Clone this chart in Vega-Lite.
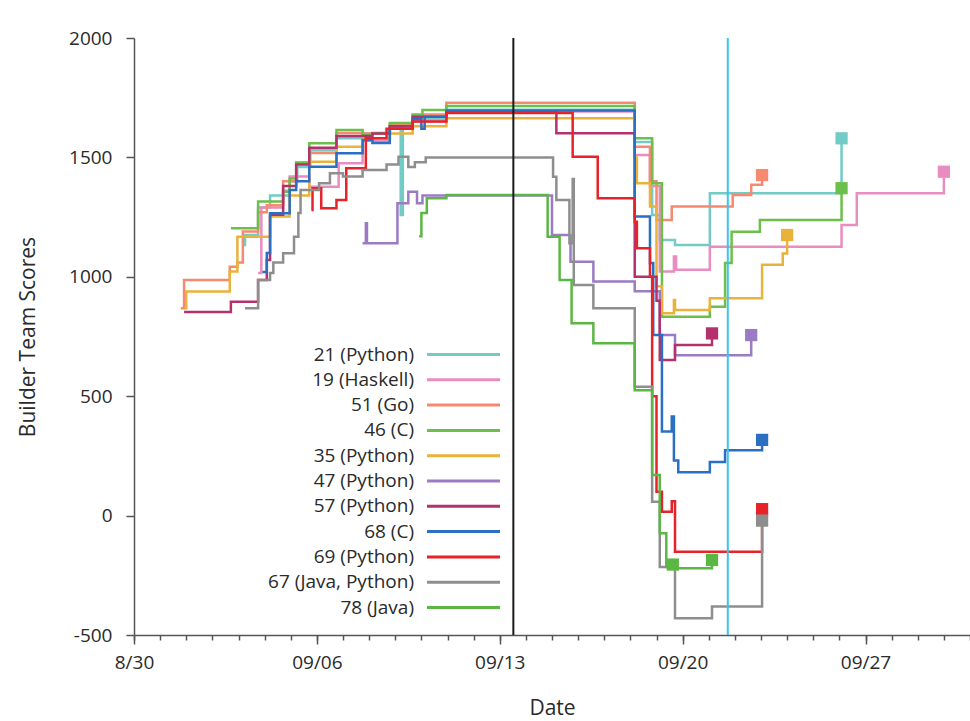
{
  "$schema": "https://vega.github.io/schema/vega-lite/v6.json",
  "width": 836,
  "height": 597,
  "autosize": {"type": "none"},
  "padding": {"left": 134, "top": 38, "right": 0, "bottom": 86},
  "background": "white",
  "datasets": {
    "scores": [
      {"team":"21 (Python)","t":"2015-09-03T04:00","score":1133},
      {"team":"21 (Python)","t":"2015-09-03T06:00","score":1175},
      {"team":"21 (Python)","t":"2015-09-03T18:00","score":1290},
      {"team":"21 (Python)","t":"2015-09-04T05:00","score":1340},
      {"team":"21 (Python)","t":"2015-09-04T23:00","score":1400},
      {"team":"21 (Python)","t":"2015-09-05T06:00","score":1460},
      {"team":"21 (Python)","t":"2015-09-05T18:00","score":1530},
      {"team":"21 (Python)","t":"2015-09-06T18:00","score":1580},
      {"team":"21 (Python)","t":"2015-09-07T18:00","score":1600},
      {"team":"21 (Python)","t":"2015-09-08T19:00","score":1630},
      {"team":"21 (Python)","t":"2015-09-09T05:00","score":1259},
      {"team":"21 (Python)","t":"2015-09-09T07:00","score":1640},
      {"team":"21 (Python)","t":"2015-09-09T16:00","score":1660},
      {"team":"21 (Python)","t":"2015-09-10T23:00","score":1700},
      {"team":"21 (Python)","t":"2015-09-18T04:00","score":1565},
      {"team":"21 (Python)","t":"2015-09-18T20:00","score":1259},
      {"team":"21 (Python)","t":"2015-09-19T03:00","score":1154},
      {"team":"21 (Python)","t":"2015-09-19T17:00","score":1133},
      {"team":"21 (Python)","t":"2015-09-21T01:00","score":1350},
      {"team":"21 (Python)","t":"2015-09-26T02:00","score":1580},

      {"team":"19 (Haskell)","t":"2015-09-03T18:00","score":1016},
      {"team":"19 (Haskell)","t":"2015-09-03T21:00","score":1290},
      {"team":"19 (Haskell)","t":"2015-09-04T17:00","score":1360},
      {"team":"19 (Haskell)","t":"2015-09-04T23:00","score":1420},
      {"team":"19 (Haskell)","t":"2015-09-05T17:00","score":1377},
      {"team":"19 (Haskell)","t":"2015-09-06T20:00","score":1475},
      {"team":"19 (Haskell)","t":"2015-09-07T18:00","score":1570},
      {"team":"19 (Haskell)","t":"2015-09-08T19:00","score":1620},
      {"team":"19 (Haskell)","t":"2015-09-09T16:00","score":1650},
      {"team":"19 (Haskell)","t":"2015-09-10T23:00","score":1692},
      {"team":"19 (Haskell)","t":"2015-09-18T04:00","score":1510},
      {"team":"19 (Haskell)","t":"2015-09-18T18:00","score":1380},
      {"team":"19 (Haskell)","t":"2015-09-19T03:00","score":1022},
      {"team":"19 (Haskell)","t":"2015-09-19T16:00","score":1085},
      {"team":"19 (Haskell)","t":"2015-09-19T18:00","score":1030},
      {"team":"19 (Haskell)","t":"2015-09-21T01:00","score":1126},
      {"team":"19 (Haskell)","t":"2015-09-26T02:00","score":1217},
      {"team":"19 (Haskell)","t":"2015-09-26T16:00","score":1350},
      {"team":"19 (Haskell)","t":"2015-09-30T00:00","score":1440},

      {"team":"51 (Go)","t":"2015-08-31T19:00","score":868},
      {"team":"51 (Go)","t":"2015-08-31T22:00","score":987},
      {"team":"51 (Go)","t":"2015-09-02T16:00","score":1042},
      {"team":"51 (Go)","t":"2015-09-02T23:00","score":1060},
      {"team":"51 (Go)","t":"2015-09-03T04:00","score":1190},
      {"team":"51 (Go)","t":"2015-09-03T18:00","score":1270},
      {"team":"51 (Go)","t":"2015-09-04T02:00","score":1300},
      {"team":"51 (Go)","t":"2015-09-04T17:00","score":1400},
      {"team":"51 (Go)","t":"2015-09-05T05:00","score":1480},
      {"team":"51 (Go)","t":"2015-09-05T17:00","score":1518},
      {"team":"51 (Go)","t":"2015-09-06T18:00","score":1602},
      {"team":"51 (Go)","t":"2015-09-07T18:00","score":1600},
      {"team":"51 (Go)","t":"2015-09-08T19:00","score":1640},
      {"team":"51 (Go)","t":"2015-09-09T16:00","score":1680},
      {"team":"51 (Go)","t":"2015-09-10T23:00","score":1729},
      {"team":"51 (Go)","t":"2015-09-18T04:00","score":1545},
      {"team":"51 (Go)","t":"2015-09-18T18:00","score":1400},
      {"team":"51 (Go)","t":"2015-09-19T00:00","score":1238},
      {"team":"51 (Go)","t":"2015-09-19T14:00","score":1294},
      {"team":"51 (Go)","t":"2015-09-21T22:00","score":1343},
      {"team":"51 (Go)","t":"2015-09-22T15:00","score":1385},
      {"team":"51 (Go)","t":"2015-09-23T01:00","score":1426},

      {"team":"46 (C)","t":"2015-09-02T17:00","score":1203},
      {"team":"46 (C)","t":"2015-09-03T18:00","score":1315},
      {"team":"46 (C)","t":"2015-09-04T17:00","score":1356},
      {"team":"46 (C)","t":"2015-09-04T23:00","score":1412},
      {"team":"46 (C)","t":"2015-09-05T05:00","score":1475},
      {"team":"46 (C)","t":"2015-09-05T17:00","score":1559},
      {"team":"46 (C)","t":"2015-09-06T18:00","score":1615},
      {"team":"46 (C)","t":"2015-09-07T18:00","score":1594},
      {"team":"46 (C)","t":"2015-09-08T03:00","score":1602},
      {"team":"46 (C)","t":"2015-09-08T19:00","score":1644},
      {"team":"46 (C)","t":"2015-09-09T16:00","score":1678},
      {"team":"46 (C)","t":"2015-09-10T01:00","score":1698},
      {"team":"46 (C)","t":"2015-09-10T23:00","score":1715},
      {"team":"46 (C)","t":"2015-09-18T04:00","score":1580},
      {"team":"46 (C)","t":"2015-09-18T20:00","score":1392},
      {"team":"46 (C)","t":"2015-09-19T05:00","score":833},
      {"team":"46 (C)","t":"2015-09-21T01:00","score":875},
      {"team":"46 (C)","t":"2015-09-21T15:00","score":1058},
      {"team":"46 (C)","t":"2015-09-21T21:00","score":1189},
      {"team":"46 (C)","t":"2015-09-22T23:00","score":1238},
      {"team":"46 (C)","t":"2015-09-26T02:00","score":1371},

      {"team":"35 (Python)","t":"2015-08-31T22:00","score":868},
      {"team":"35 (Python)","t":"2015-09-01T00:00","score":938},
      {"team":"35 (Python)","t":"2015-09-02T16:00","score":1022},
      {"team":"35 (Python)","t":"2015-09-02T23:00","score":1168},
      {"team":"35 (Python)","t":"2015-09-04T05:00","score":1252},
      {"team":"35 (Python)","t":"2015-09-04T23:00","score":1340},
      {"team":"35 (Python)","t":"2015-09-05T17:00","score":1482},
      {"team":"35 (Python)","t":"2015-09-06T18:00","score":1545},
      {"team":"35 (Python)","t":"2015-09-07T18:00","score":1580},
      {"team":"35 (Python)","t":"2015-09-08T19:00","score":1600},
      {"team":"35 (Python)","t":"2015-09-09T16:00","score":1630},
      {"team":"35 (Python)","t":"2015-09-10T23:00","score":1664},
      {"team":"35 (Python)","t":"2015-09-18T04:00","score":1500},
      {"team":"35 (Python)","t":"2015-09-18T06:00","score":1392},
      {"team":"35 (Python)","t":"2015-09-18T18:00","score":1294},
      {"team":"35 (Python)","t":"2015-09-19T00:00","score":960},
      {"team":"35 (Python)","t":"2015-09-19T05:00","score":847},
      {"team":"35 (Python)","t":"2015-09-19T16:00","score":903},
      {"team":"35 (Python)","t":"2015-09-19T17:00","score":861},
      {"team":"35 (Python)","t":"2015-09-21T01:00","score":910},
      {"team":"35 (Python)","t":"2015-09-23T01:00","score":1050},
      {"team":"35 (Python)","t":"2015-09-23T20:00","score":1098},
      {"team":"35 (Python)","t":"2015-09-24T00:00","score":1175},

      {"team":"47 (Python)","t":"2015-09-07T18:00","score":1140},
      {"team":"47 (Python)","t":"2015-09-07T21:00","score":1224},
      {"team":"47 (Python)","t":"2015-09-07T22:00","score":1140},
      {"team":"47 (Python)","t":"2015-09-09T02:00","score":1308},
      {"team":"47 (Python)","t":"2015-09-09T12:00","score":1356},
      {"team":"47 (Python)","t":"2015-09-09T20:00","score":1308},
      {"team":"47 (Python)","t":"2015-09-10T01:00","score":1340},
      {"team":"47 (Python)","t":"2015-09-15T00:00","score":1175},
      {"team":"47 (Python)","t":"2015-09-15T17:00","score":1063},
      {"team":"47 (Python)","t":"2015-09-16T14:00","score":980},
      {"team":"47 (Python)","t":"2015-09-18T04:00","score":940},
      {"team":"47 (Python)","t":"2015-09-19T03:00","score":756},
      {"team":"47 (Python)","t":"2015-09-19T17:00","score":672},
      {"team":"47 (Python)","t":"2015-09-22T15:00","score":756},

      {"team":"57 (Python)","t":"2015-08-31T22:00","score":853},
      {"team":"57 (Python)","t":"2015-09-02T17:00","score":896},
      {"team":"57 (Python)","t":"2015-09-03T18:00","score":987},
      {"team":"57 (Python)","t":"2015-09-04T02:00","score":1070},
      {"team":"57 (Python)","t":"2015-09-04T05:00","score":1260},
      {"team":"57 (Python)","t":"2015-09-04T17:00","score":1380},
      {"team":"57 (Python)","t":"2015-09-05T05:00","score":1470},
      {"team":"57 (Python)","t":"2015-09-05T17:00","score":1540},
      {"team":"57 (Python)","t":"2015-09-06T18:00","score":1590},
      {"team":"57 (Python)","t":"2015-09-08T03:00","score":1600},
      {"team":"57 (Python)","t":"2015-09-08T19:00","score":1630},
      {"team":"57 (Python)","t":"2015-09-09T16:00","score":1670},
      {"team":"57 (Python)","t":"2015-09-10T23:00","score":1690},
      {"team":"57 (Python)","t":"2015-09-15T04:00","score":1601},
      {"team":"57 (Python)","t":"2015-09-18T04:00","score":1000},
      {"team":"57 (Python)","t":"2015-09-19T00:00","score":900},
      {"team":"57 (Python)","t":"2015-09-19T03:00","score":652},
      {"team":"57 (Python)","t":"2015-09-19T17:00","score":714},
      {"team":"57 (Python)","t":"2015-09-21T03:00","score":763},

      {"team":"68 (C)","t":"2015-09-03T22:00","score":1020},
      {"team":"68 (C)","t":"2015-09-04T02:00","score":1100},
      {"team":"68 (C)","t":"2015-09-04T05:00","score":1266},
      {"team":"68 (C)","t":"2015-09-04T23:00","score":1364},
      {"team":"68 (C)","t":"2015-09-05T05:00","score":1400},
      {"team":"68 (C)","t":"2015-09-05T17:00","score":1461},
      {"team":"68 (C)","t":"2015-09-06T18:00","score":1517},
      {"team":"68 (C)","t":"2015-09-07T18:00","score":1573},
      {"team":"68 (C)","t":"2015-09-08T03:00","score":1560},
      {"team":"68 (C)","t":"2015-09-08T19:00","score":1620},
      {"team":"68 (C)","t":"2015-09-09T16:00","score":1660},
      {"team":"68 (C)","t":"2015-09-10T00:00","score":1620},
      {"team":"68 (C)","t":"2015-09-10T03:00","score":1670},
      {"team":"68 (C)","t":"2015-09-10T23:00","score":1696},
      {"team":"68 (C)","t":"2015-09-18T04:00","score":1252},
      {"team":"68 (C)","t":"2015-09-18T18:00","score":1058},
      {"team":"68 (C)","t":"2015-09-18T21:00","score":756},
      {"team":"68 (C)","t":"2015-09-19T05:00","score":352},
      {"team":"68 (C)","t":"2015-09-19T14:00","score":415},
      {"team":"68 (C)","t":"2015-09-19T16:00","score":231},
      {"team":"68 (C)","t":"2015-09-19T20:00","score":182},
      {"team":"68 (C)","t":"2015-09-21T01:00","score":224},
      {"team":"68 (C)","t":"2015-09-21T15:00","score":274},
      {"team":"68 (C)","t":"2015-09-23T01:00","score":317},

      {"team":"69 (Python)","t":"2015-09-05T19:00","score":1280},
      {"team":"69 (Python)","t":"2015-09-05T20:00","score":1371},
      {"team":"69 (Python)","t":"2015-09-06T04:00","score":1287},
      {"team":"69 (Python)","t":"2015-09-06T18:00","score":1322},
      {"team":"69 (Python)","t":"2015-09-07T03:00","score":1455},
      {"team":"69 (Python)","t":"2015-09-07T21:00","score":1580},
      {"team":"69 (Python)","t":"2015-09-08T16:00","score":1620},
      {"team":"69 (Python)","t":"2015-09-09T16:00","score":1650},
      {"team":"69 (Python)","t":"2015-09-10T23:00","score":1686},
      {"team":"69 (Python)","t":"2015-09-15T19:00","score":1503},
      {"team":"69 (Python)","t":"2015-09-16T18:00","score":1329},
      {"team":"69 (Python)","t":"2015-09-18T04:00","score":1231},
      {"team":"69 (Python)","t":"2015-09-18T06:00","score":1120},
      {"team":"69 (Python)","t":"2015-09-18T18:00","score":1000},
      {"team":"69 (Python)","t":"2015-09-18T20:00","score":500},
      {"team":"69 (Python)","t":"2015-09-19T00:00","score":100},
      {"team":"69 (Python)","t":"2015-09-19T05:00","score":16},
      {"team":"69 (Python)","t":"2015-09-19T14:00","score":60},
      {"team":"69 (Python)","t":"2015-09-19T17:00","score":-151},
      {"team":"69 (Python)","t":"2015-09-23T01:00","score":24},

      {"team":"67 (Java, Python)","t":"2015-09-03T06:00","score":868},
      {"team":"67 (Java, Python)","t":"2015-09-03T18:00","score":987},
      {"team":"67 (Java, Python)","t":"2015-09-04T05:00","score":1016},
      {"team":"67 (Java, Python)","t":"2015-09-04T08:00","score":1060},
      {"team":"67 (Java, Python)","t":"2015-09-04T17:00","score":1099},
      {"team":"67 (Java, Python)","t":"2015-09-05T03:00","score":1168},
      {"team":"67 (Java, Python)","t":"2015-09-05T07:00","score":1267},
      {"team":"67 (Java, Python)","t":"2015-09-05T09:00","score":1364},
      {"team":"67 (Java, Python)","t":"2015-09-06T02:00","score":1392},
      {"team":"67 (Java, Python)","t":"2015-09-06T12:00","score":1434},
      {"team":"67 (Java, Python)","t":"2015-09-07T00:00","score":1420},
      {"team":"67 (Java, Python)","t":"2015-09-07T18:00","score":1447},
      {"team":"67 (Java, Python)","t":"2015-09-08T16:00","score":1470},
      {"team":"67 (Java, Python)","t":"2015-09-09T03:00","score":1503},
      {"team":"67 (Java, Python)","t":"2015-09-09T12:00","score":1460},
      {"team":"67 (Java, Python)","t":"2015-09-09T18:00","score":1480},
      {"team":"67 (Java, Python)","t":"2015-09-10T04:00","score":1500},
      {"team":"67 (Java, Python)","t":"2015-09-15T01:00","score":1419},
      {"team":"67 (Java, Python)","t":"2015-09-15T04:00","score":1322},
      {"team":"67 (Java, Python)","t":"2015-09-15T16:00","score":1140},
      {"team":"67 (Java, Python)","t":"2015-09-15T19:00","score":1410},
      {"team":"67 (Java, Python)","t":"2015-09-15T20:00","score":966},
      {"team":"67 (Java, Python)","t":"2015-09-16T14:00","score":868},
      {"team":"67 (Java, Python)","t":"2015-09-18T04:00","score":540},
      {"team":"67 (Java, Python)","t":"2015-09-18T20:00","score":58},
      {"team":"67 (Java, Python)","t":"2015-09-19T03:00","score":-215},
      {"team":"67 (Java, Python)","t":"2015-09-19T17:00","score":-430},
      {"team":"67 (Java, Python)","t":"2015-09-21T03:00","score":-381},
      {"team":"67 (Java, Python)","t":"2015-09-23T01:00","score":-21},

      {"team":"78 (Java)","t":"2015-09-09T22:00","score":1170},
      {"team":"78 (Java)","t":"2015-09-10T00:00","score":1267},
      {"team":"78 (Java)","t":"2015-09-10T05:00","score":1329},
      {"team":"78 (Java)","t":"2015-09-10T23:00","score":1343},
      {"team":"78 (Java)","t":"2015-09-14T20:00","score":1168},
      {"team":"78 (Java)","t":"2015-09-15T07:00","score":987},
      {"team":"78 (Java)","t":"2015-09-15T18:00","score":805},
      {"team":"78 (Java)","t":"2015-09-16T14:00","score":722},
      {"team":"78 (Java)","t":"2015-09-18T04:00","score":525},
      {"team":"78 (Java)","t":"2015-09-18T20:00","score":170},
      {"team":"78 (Java)","t":"2015-09-19T03:00","score":-74},
      {"team":"78 (Java)","t":"2015-09-19T09:00","score":-215},
      {"team":"78 (Java)","t":"2015-09-19T15:00","score":-220},
      {"team":"78 (Java)","t":"2015-09-21T03:00","score":-186}
    ],
    "finals": [
      {"team":"21 (Python)","t":"2015-09-26T02:00","score":1580},
      {"team":"19 (Haskell)","t":"2015-09-30T00:00","score":1440},
      {"team":"51 (Go)","t":"2015-09-23T01:00","score":1426},
      {"team":"46 (C)","t":"2015-09-26T02:00","score":1371},
      {"team":"35 (Python)","t":"2015-09-24T00:00","score":1175},
      {"team":"47 (Python)","t":"2015-09-22T15:00","score":756},
      {"team":"57 (Python)","t":"2015-09-21T03:00","score":763},
      {"team":"68 (C)","t":"2015-09-23T01:00","score":317},
      {"team":"69 (Python)","t":"2015-09-23T01:00","score":27},
      {"team":"67 (Java, Python)","t":"2015-09-23T01:00","score":-21},
      {"team":"78 (Java)","t":"2015-09-19T15:00","score":-205},
      {"team":"78 (Java)","t":"2015-09-21T03:00","score":-186}
    ]
  },
  "resolve": {"axis": {"x": "independent"}},
  "layer": [
    {
      "data": {"name": "scores"},
      "mark": {"type": "line", "interpolate": "step-after", "strokeWidth": 2.5},
      "encoding": {
        "x": {
          "field": "t", "type": "temporal",
          "scale": {"domain": [{"year": 2015, "month": 8, "date": 30}, {"year": 2015, "month": 10, "date": 1}]},
          "axis": {
            "title": "Date", "orient": "bottom",
            "tickCount": {"interval": "week", "step": 1},
            "labelExpr": "timeFormat(datum.value, month(datum.value) == 7 ? '%-m/%d' : '%m/%d')",
            "grid": false, "tickSize": 9, "labelPadding": 9, "titlePadding": 25,
            "labelFlush": false
          }
        },
        "y": {
          "field": "score", "type": "quantitative",
          "scale": {"domain": [-500, 2000], "nice": false, "zero": false},
          "axis": {"title": "Builder Team Scores", "values": [-500, 0, 500, 1000, 1500, 2000], "labelExpr": "'' + datum.value", "grid": false, "tickSize": 8, "labelPadding": 14, "titlePadding": 30}
        },
        "color": {
          "field": "team", "type": "nominal",
          "scale": {
            "domain": ["21 (Python)", "19 (Haskell)", "51 (Go)", "46 (C)", "35 (Python)", "47 (Python)", "57 (Python)", "68 (C)", "69 (Python)", "67 (Java, Python)", "78 (Java)"],
            "range": ["#72cbc4", "#e98cbf", "#f6896e", "#6bbf4a", "#e9b23a", "#9b7bc3", "#b3326c", "#2b6fc3", "#e72228", "#8e8e8e", "#5bb744"]
          },
          "legend": {
            "title": null, "orient": "none", "legendX": 293, "legendY": 307,
            "symbolType": "M -14.6 0 L 14.6 0", "symbolSize": 25, "symbolStrokeWidth": 3,
            "symbolOffset": 27, "rowPadding": 5.3, "padding": 0,
            "labelAlign": "right", "labelOffset": -59, "labelFontSize": 19,
            "labelFont": "Open Sans", "labelColor": "#2a2a2a", "labelLimit": 300
          }
        }
      }
    },
    {
      "data": {"name": "finals"},
      "mark": {"type": "point", "shape": "square", "filled": true, "size": 150, "opacity": 1},
      "encoding": {
        "x": {"field": "t", "type": "temporal", "axis": null},
        "y": {"field": "score", "type": "quantitative"},
        "color": {"field": "team", "type": "nominal", "legend": null}
      }
    },
    {
      "data": {"values": [{"t": "2015-09-13T12:30"}]},
      "mark": {"type": "rule", "color": "#1a1a1a", "strokeWidth": 2},
      "encoding": {
        "x": {"field": "t", "type": "temporal",
          "axis": {"orient": "bottom", "title": null, "labels": false, "domain": false, "grid": false, "tickSize": 5, "tickCount": {"interval": "day", "step": 1}}}
      }
    },
    {
      "data": {"values": [{"t": "2015-09-21T17:30"}]},
      "mark": {"type": "rule", "color": "#3cc3ee", "strokeWidth": 2},
      "encoding": {"x": {"field": "t", "type": "temporal", "axis": null}}
    }
  ],
  "config": {
    "view": {"stroke": null},
    "font": "Open Sans",
    "axis": {
      "labelFont": "Open Sans", "labelFontSize": 19, "labelColor": "#2a2a2a",
      "titleFont": "Open Sans", "titleFontSize": 21, "titleFontWeight": "normal", "titleColor": "#2a2a2a",
      "domainColor": "#555", "domainWidth": 1.5, "tickColor": "#555", "tickWidth": 1.5
    }
  }
}
